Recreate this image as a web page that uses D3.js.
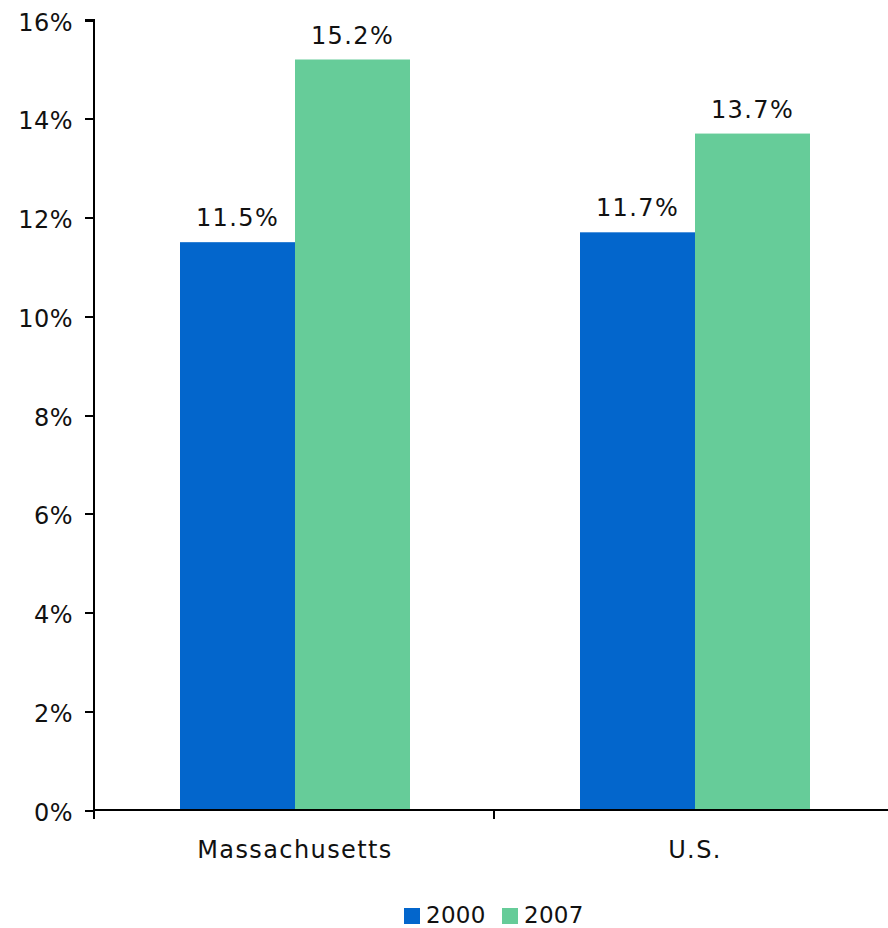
<!DOCTYPE html>
<meta charset="utf-8">
<head>
<style>
  body { margin: 0; background: #fff; }
  text { font-family: "DejaVu Sans", Verdana, sans-serif; fill: #111; }
  .axis path, .axis line { stroke: #000; stroke-width: 2px; shape-rendering: crispEdges; }
</style>
</head>
<body>
<script src="https://d3js.org/d3.v7.min.js"></script>
<script>
// data
var categories = ["Massachusetts", "U.S."];
var seriesNames = ["2000", "2007"];
var values2000 = [11.5, 11.7];
var values2007 = [15.2, 13.7];
var yTicks = [0, 2, 4, 6, 8, 10, 12, 14, 16];
var colors = ["#0366cc", "#66cc99"];

var width = 888, height = 928;
var margin = { top: 20, left: 94, bottom: 118, right: -8 };

var svg = d3.select("body").append("svg")
    .attr("width", width)
    .attr("height", height);

var rows = categories.map(function(c, i) {
    return { cat: c, vals: [values2000[i], values2007[i]] };
});

var x0 = d3.scaleBand()
    .domain(categories)
    .range([margin.left, width - margin.right])
    .paddingInner(0.425)
    .paddingOuter(0.215);

var x1 = d3.scaleBand()
    .domain(seriesNames)
    .range([0, x0.bandwidth()]);

var y = d3.scaleLinear()
    .domain([0, 16])
    .range([height - margin.bottom, margin.top]);

// bars
var groups = svg.selectAll("g.grp")
    .data(rows)
    .enter().append("g")
    .attr("class", "grp")
    .attr("transform", function(d) { return "translate(" + x0(d.cat) + ",0)"; });

groups.selectAll("rect")
    .data(function(d) { return d.vals.map(function(v, i) { return { key: seriesNames[i], v: v, i: i }; }); })
    .enter().append("rect")
    .attr("x", function(d) { return x1(d.key); })
    .attr("y", function(d) { return y(d.v); })
    .attr("width", x1.bandwidth())
    .attr("height", function(d) { return y(0) - y(d.v); })
    .attr("fill", function(d) { return colors[d.i]; });

// value labels
groups.selectAll("text.val")
    .data(function(d) { return d.vals.map(function(v, i) { return { key: seriesNames[i], v: v }; }); })
    .enter().append("text")
    .attr("class", "val")
    .attr("x", function(d) { return x1(d.key) + x1.bandwidth() / 2; })
    .attr("y", function(d) { return y(d.v) - 16; })
    .attr("text-anchor", "middle")
    .style("font-size", "24px")
    .style("letter-spacing", "1.4px")
    .text(function(d) { return d.v.toFixed(1) + "%"; });

// y axis
var yAxis = svg.append("g")
    .attr("class", "axis")
    .attr("transform", "translate(" + margin.left + ",0)")
    .call(d3.axisLeft(y).tickValues(yTicks).tickSize(9).tickPadding(12)
        .tickFormat(function(d) { return d + "%"; }));
yAxis.selectAll("text")
    .style("font-size", "24px")
    .style("letter-spacing", "0.5px")
    .attr("dy", "0.42em")
    .attr("fill", "#111");
yAxis.select(".domain").attr("d", "M0," + y(0) + "V" + y(16) + "H-9");

// x axis with ticks on category boundaries
var xLine = svg.append("g").attr("class", "axis");
xLine.append("line")
    .attr("x1", margin.left).attr("x2", width)
    .attr("y1", y(0)).attr("y2", y(0));
var step = x0.step();
var bounds = [margin.left, margin.left + step];
xLine.selectAll("line.tk")
    .data(bounds)
    .enter().append("line")
    .attr("class", "tk")
    .attr("x1", function(d) { return d; }).attr("x2", function(d) { return d; })
    .attr("y1", y(0)).attr("y2", y(0) + 9);

svg.selectAll("text.cat")
    .data(categories)
    .enter().append("text")
    .attr("class", "cat")
    .attr("x", function(d) { return x0(d) + x0.bandwidth() / 2; })
    .attr("y", y(0) + 48)
    .attr("text-anchor", "middle")
    .style("font-size", "24px")
    .style("letter-spacing", "1.4px")
    .text(function(d) { return d; });

// legend
var legend = svg.append("g").attr("transform", "translate(404,908)");
var lx = [0, 98];
seriesNames.forEach(function(name, i) {
    legend.append("rect")
        .attr("x", lx[i]).attr("y", 0)
        .attr("width", 16).attr("height", 16)
        .attr("fill", colors[i]);
    legend.append("text")
        .attr("x", lx[i] + 22).attr("y", 15)
        .style("font-size", "23px")
        .style("letter-spacing", "0.3px")
        .text(name);
});
</script>
</body>
